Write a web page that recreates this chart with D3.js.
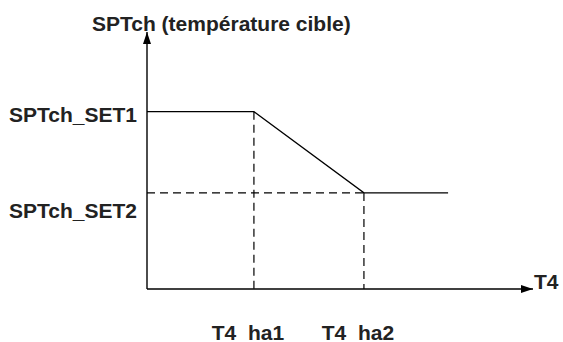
<!DOCTYPE html>
<html>
<head>
<meta charset="utf-8">
<script src="https://cdn.jsdelivr.net/npm/d3@7/dist/d3.min.js"></script>
<style>
  html, body { margin: 0; padding: 0; background: #fff; }
  svg { display: block; }
  text { font-family: "Liberation Sans", Arial, sans-serif; font-weight: bold; fill: #222; }
</style>
</head>
<body>
<svg id="chart" width="563" height="342"></svg>
<script>
// Setpoint curve: SPTch as a function of outdoor temperature T4
const yTitle = "SPTch (température cible)";
const xTitle = "T4";
const xBreakLabels = ["T4  ha1", "T4  ha2"];
const xBreakValues = [27.7, 56.2];      // T4 ha1, T4 ha2 on the T4 axis
const xCurveEnd = 78;                   // where the plotted curve stops
const yLevelLabels = ["SPTch_SET1", "SPTch_SET2"];
const yLevelValues = [69, 37.4];        // SET1, SET2 on the SPTch axis

const svg = d3.select("#chart");
const x = d3.scaleLinear().domain([0, 100]).range([147, 533]);
const y = d3.scaleLinear().domain([0, 100]).range([289, 32]);

// Arrow marker for both axes
svg.append("defs").append("marker")
  .attr("id", "arrow")
  .attr("viewBox", "0 0 12 8")
  .attr("refX", 12).attr("refY", 4)
  .attr("markerWidth", 12).attr("markerHeight", 8)
  .attr("markerUnits", "userSpaceOnUse")
  .attr("orient", "auto")
  .append("path").attr("d", "M0,0 L12,4 L0,8 Z").attr("fill", "#000");

// Dashed guides
const dash = "8,5";
const guides = svg.append("g")
  .attr("stroke", "#000").attr("stroke-width", 1.2)
  .attr("stroke-dasharray", dash).attr("fill", "none");
xBreakValues.forEach((v, i) => {
  guides.append("line")
    .attr("x1", x(v)).attr("x2", x(v))
    .attr("y1", y(yLevelValues[i])).attr("y2", y(0));
});
guides.append("line")
  .attr("x1", x(0)).attr("x2", x(xBreakValues[1]))
  .attr("y1", y(yLevelValues[1])).attr("y2", y(yLevelValues[1]));

// Setpoint curve
const curve = [
  [0, yLevelValues[0]],
  [xBreakValues[0], yLevelValues[0]],
  [xBreakValues[1], yLevelValues[1]],
  [xCurveEnd, yLevelValues[1]]
];
svg.append("path")
  .attr("d", d3.line().x(d => x(d[0])).y(d => y(d[1]))(curve))
  .attr("fill", "none").attr("stroke", "#000").attr("stroke-width", 1.3);

// Axes with arrow heads
const axes = svg.append("g").attr("stroke", "#000").attr("stroke-width", 1.4);
axes.append("line")
  .attr("x1", x(0)).attr("y1", y(0)).attr("x2", x(0)).attr("y2", y(100))
  .attr("marker-end", "url(#arrow)");
axes.append("line")
  .attr("x1", x(0)).attr("y1", y(0)).attr("x2", x(100)).attr("y2", y(0))
  .attr("marker-end", "url(#arrow)");

// Labels
const fs = "21px";
svg.append("text").attr("x", 92).attr("y", 31).style("font-size", fs).text(yTitle);
svg.append("text").attr("x", x(100) + 1).attr("y", y(0)).style("font-size", fs).text(xTitle);

const yLabelDy = [10, 25];
yLevelLabels.forEach((t, i) => {
  svg.append("text")
    .attr("x", x(0) - 10).attr("y", y(yLevelValues[i]) + yLabelDy[i])
    .attr("text-anchor", "end").style("font-size", fs).text(t);
});

xBreakLabels.forEach((t, i) => {
  svg.append("text")
    .attr("x", x(xBreakValues[i]) - 6).attr("y", 340)
    .attr("text-anchor", "middle").style("font-size", fs)
    .style("white-space", "pre").text(t);
});
</script>
</body>
</html>
